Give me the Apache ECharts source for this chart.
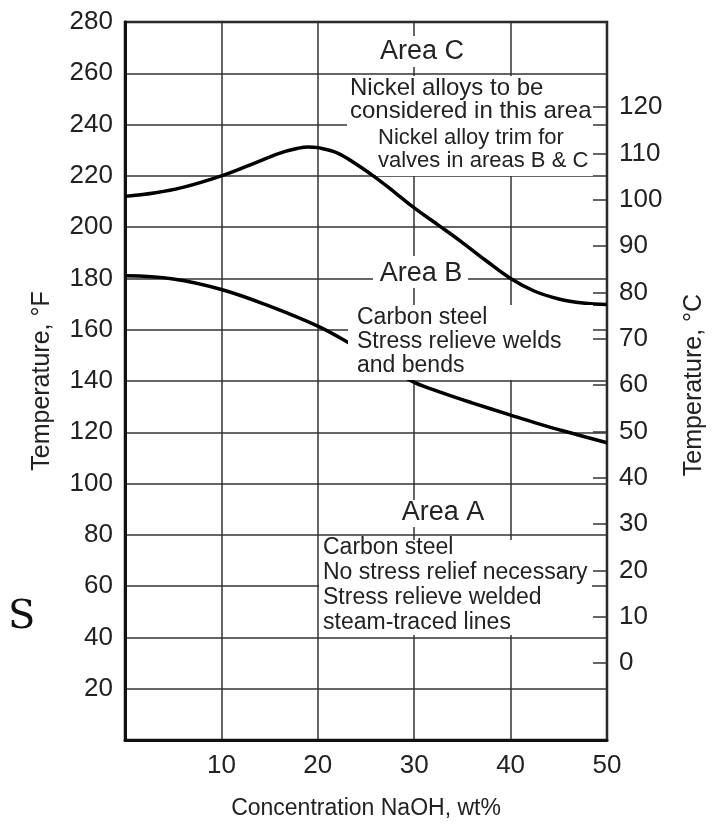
<!DOCTYPE html>
<html><head><meta charset="utf-8">
<script src="https://cdn.jsdelivr.net/npm/echarts@6/dist/echarts.min.js"></script>
<style>html,body{margin:0;padding:0;background:#fff}#c{width:720px;height:827px}</style>
</head><body><div id="c"></div>
<script>
// ---- data ----
const concRange = [0, 50];          // wt% NaOH
const concInterval = 10;
const tempFRange = [0, 280];        // °F
const tempFInterval = 20;
const tempCRange = [0, 120];        // °C (right axis)
const tempCInterval = 10;
// boundary between Area B and Area C  [wt%, °F]
const upperCurve = [[0,212],[3,213.3],[6,215.5],[10,220],[13,224.3],[16,228.8],[18,230.8],[19,231.3],[20,231],[22,229],[24,224.5],[26,219.3],[28,213.5],[30,207.5],[32.5,200.8],[35,194],[37.5,186.8],[40,180],[42.5,175],[45,172],[47.5,170.4],[50,169.8]];
// boundary between Area A and Area B  [wt%, °F]
const lowerCurve = [[0,181],[5,179.8],[10,175.7],[15,169.2],[20,161.4],[23.2,154.9],[26,148.5],[28,143.8],[30,139.5],[33,135.3],[36,131.5],[40,126.7],[43,123.2],[46,120],[50,115.9]];
const areaLabels = ['Area C', 'Area B', 'Area A'];
const areaCText1 = ['Nickel alloys to be', 'considered in this area'];
const areaCText2 = ['Nickel alloy trim for', 'valves in areas B & C'];
const areaBText = ['Carbon steel', 'Stress relieve welds', 'and bends'];
const areaAText = ['Carbon steel', 'No stress relief necessary', 'Stress relieve welded', 'steam-traced lines'];

const FF = 'Liberation Sans, Arial, Helvetica, sans-serif';
const TXT = '#222';
const chart = echarts.init(document.getElementById('c'), null, {renderer:'canvas'});

function rect(x, y, w, h) {
  return {type:'rect', z:100, shape:{x:x, y:y, width:w, height:h}, style:{fill:'#fff'}, silent:true};
}
function txt(t, x, y, size, align, valign, lh) {
  return {type:'text', z:101, silent:true, style:{text:t, x:x, y:y, font: size + "px 'Liberation Sans', Arial, sans-serif", fill:TXT,
    align:align, textAlign:align, verticalAlign:valign, textVerticalAlign:valign, lineHeight:lh || size}};
}

const option = {
  animation:false,
  backgroundColor:'#fff',
  grid:[
    {left:125, right:113, top:22, bottom:87, show:true, borderColor:'#111', borderWidth:2.5, backgroundColor:'transparent'},
    {left:125, right:113, top:107, bottom:164}
  ],
  xAxis:[
    {gridIndex:0, type:'value', min:concRange[0], max:concRange[1], interval:concInterval,
     axisLine:{show:true, onZero:false, lineStyle:{color:'#111', width:3}},
     axisTick:{show:false},
     axisLabel:{formatter:v => v === 0 ? '' : String(v), fontSize:26, color:TXT, margin:13, fontFamily:FF},
     splitLine:{show:true, lineStyle:{color:'#333', width:1.5}},
     name:'Concentration NaOH, wt%', nameLocation:'middle', nameGap:57,
     nameTextStyle:{fontSize:23, color:TXT, fontFamily:FF}},
    {gridIndex:1, type:'value', min:concRange[0], max:concRange[1], show:false}
  ],
  yAxis:[
    {gridIndex:0, type:'value', min:tempFRange[0], max:tempFRange[1], interval:tempFInterval,
     axisLine:{show:true, onZero:false, lineStyle:{color:'#111', width:3}},
     axisTick:{show:false},
     axisLabel:{formatter:v => v === 0 ? '' : String(v), fontSize:26, color:TXT, margin:12, fontFamily:FF},
     splitLine:{show:true, lineStyle:{color:'#333', width:1.5}},
     name:'Temperature, °F', nameLocation:'middle', nameRotate:90, nameGap:70,
     nameTextStyle:{fontSize:25, color:TXT, fontFamily:FF}},
    {gridIndex:1, type:'value', position:'right', min:tempCRange[0], max:tempCRange[1], interval:tempCInterval,
     axisLine:{show:false, onZero:false},
     axisTick:{show:true, inside:true, length:14, lineStyle:{color:'#333', width:1.5}},
     axisLabel:{fontSize:26, color:TXT, margin:12, fontFamily:FF},
     splitLine:{show:false},
     name:'Temperature, °C', nameLocation:'middle', nameRotate:90, nameGap:75,
     nameTextStyle:{fontSize:25, color:TXT, fontFamily:FF}}
  ],
  series:[
    {type:'line', xAxisIndex:0, yAxisIndex:0, data:upperCurve, smooth:0.4, symbol:'none',
     lineStyle:{color:'#000', width:3.5}, z:5},
    {type:'line', xAxisIndex:0, yAxisIndex:0, data:lowerCurve, smooth:0.4, symbol:'none',
     lineStyle:{color:'#000', width:3.5}, z:5}
  ],
  graphic:[
    // white masks behind annotation blocks
    rect(347, 76, 246, 52),
    rect(376, 128, 217, 48),
    rect(348, 305, 245, 75),
    rect(319, 540, 273, 95),
    rect(378, 36, 88, 31),
    rect(373, 256, 95, 32),
    rect(398, 500, 90, 27),
    // texts
    txt(areaLabels[0], 422, 52, 27, 'center', 'middle'),
    txt(areaLabels[1], 421, 274, 27, 'center', 'middle'),
    txt(areaLabels[2], 443, 513, 27, 'center', 'middle'),
    txt(areaCText1.join('\n'), 350, 77, 24, 'left', 'top', 23),
    txt(areaCText2.join('\n'), 378, 126, 22, 'left', 'top', 23),
    txt(areaBText.join('\n'), 357, 306, 23, 'left', 'top', 24),
    txt(areaAText.join('\n'), 323, 535, 23, 'left', 'top', 25),
    {type:'text', z:101, silent:true, style:{text:'S', x:8, y:618, fontFamily:'DejaVu Serif', fontSize:40, fontStyle:'normal', fontWeight:'normal', fill:'#111', align:'left', verticalAlign:'middle'}}
  ]
};
chart.setOption(option);
</script>
</body></html>
